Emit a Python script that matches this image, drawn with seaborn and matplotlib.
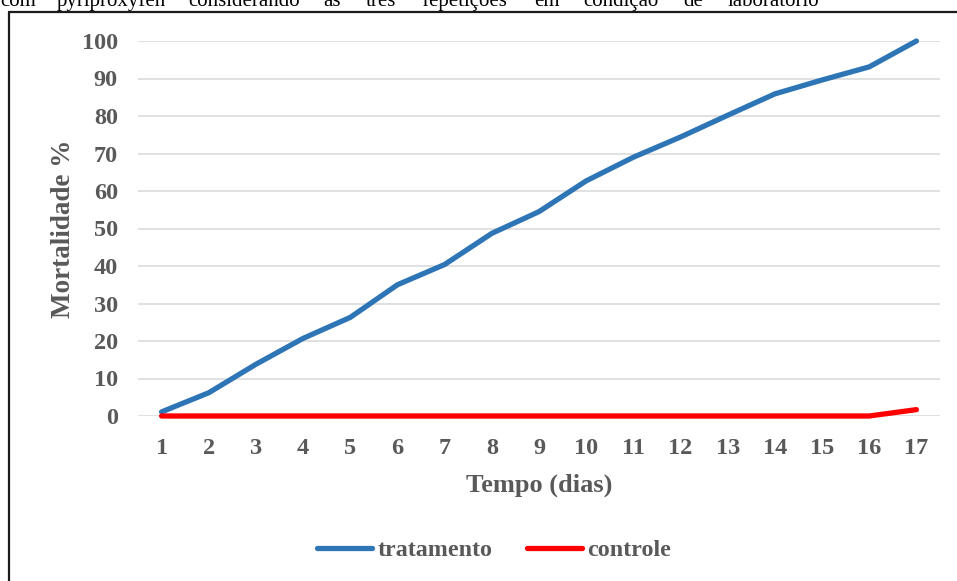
import matplotlib
matplotlib.use("Agg")
import matplotlib.pyplot as plt
from matplotlib.lines import Line2D
import seaborn as sns
import pandas as pd

# Daily cumulative mortality (%)
dias = list(range(1, 18))
tratamento = [1.1, 6.2, 13.8, 20.7, 26.3, 35.0, 40.4, 48.7, 54.5,
              62.7, 69.0, 74.4, 80.2, 85.9, 89.6, 93.1, 100.0]
controle = [0, 0, 0, 0, 0, 0, 0, 0, 0, 0, 0, 0, 0, 0, 0, 0, 1.7]
series_names = ["tratamento", "controle"]
series_colors = ["#2E75B6", "#FF0000"]
y_ticks = list(range(0, 101, 10))

df = pd.DataFrame({
    "dia": dias * 2,
    "mortalidade": tratamento + controle,
    "grupo": [series_names[0]] * len(dias) + [series_names[1]] * len(dias),
})

sns.set_theme(style="white")
plt.rcParams["font.family"] = ["Liberation Serif", "DejaVu Serif"]

W, H = 957, 581
fig = plt.figure(figsize=(W / 100, H / 100), dpi=100)
ax = fig.add_axes([138 / W, 1 - 416 / H, (940 - 138) / W, (416 - 41) / H])

grey = "#595959"
sns.lineplot(data=df, x="dia", y="mortalidade", hue="grupo",
             palette=dict(zip(series_names, series_colors)),
             linewidth=3.8, ax=ax, legend=False, zorder=3)
for ln in ax.lines:
    ln.set_solid_capstyle("round")
    ln.set_solid_joinstyle("round")
    ln.set_clip_on(False)

ax.set_xlim(0.5, 17.5)
ax.set_ylim(0, 100)
ax.set_xticks(dias)
ax.set_xticklabels([str(d) for d in dias])
ax.set_yticks(y_ticks)
ax.yaxis.grid(True, color="#D9D9D9", linewidth=1.1, zorder=0)
ax.xaxis.grid(False)
for s in ax.spines.values():
    s.set_visible(False)

ax.tick_params(axis="both", length=0, labelsize=17.5, labelcolor=grey)
ax.tick_params(axis="y", pad=14.5)
ax.tick_params(axis="x", pad=15.5)
for lab in ax.get_xticklabels() + ax.get_yticklabels():
    lab.set_fontweight("bold")

ax.set_xlabel("Tempo (dias)", fontsize=19, fontweight="bold", color=grey, labelpad=10.5)
ax.set_ylabel("Mortalidade %", fontsize=19.5, fontweight="bold", color=grey, labelpad=4)

handles = [Line2D([0], [0], color=c, linewidth=3.8, solid_capstyle="round")
           for c in series_colors]
leg = fig.legend(handles, series_names, loc="center", bbox_to_anchor=(494 / W, 1 - 550 / H),
                 ncol=2, frameon=False, handlelength=2.3, handletextpad=0.2,
                 columnspacing=1.45,
                 prop={"family": "Liberation Serif", "weight": "bold", "size": 17.3})
for t in leg.get_texts():
    t.set_color(grey)

# Chart frame
fig.add_artist(Line2D([9 / W, 9 / W], [0, 1 - 12 / H], transform=fig.transFigure,
                      color="#1a1a1a", linewidth=1.6))
fig.add_artist(Line2D([9 / W, 1], [1 - 12 / H, 1 - 12 / H], transform=fig.transFigure,
                      color="#1a1a1a", linewidth=1.6))

# Caption line above the frame (justified words)
words = ["com", "pyriproxyfen", "considerando", "as", "três", "repetições",
         "em", "condição", "de", "laboratório"]
word_x = [0, 57, 188, 323, 366, 423, 534, 583, 683, 728]
for w, xp in zip(words, word_x):
    fig.text(xp / W, 1 - 6 / H, w, fontsize=15, color="black",
             family="Liberation Serif", ha="left", va="baseline")

fig.savefig("out.png", dpi=100, facecolor="white")
